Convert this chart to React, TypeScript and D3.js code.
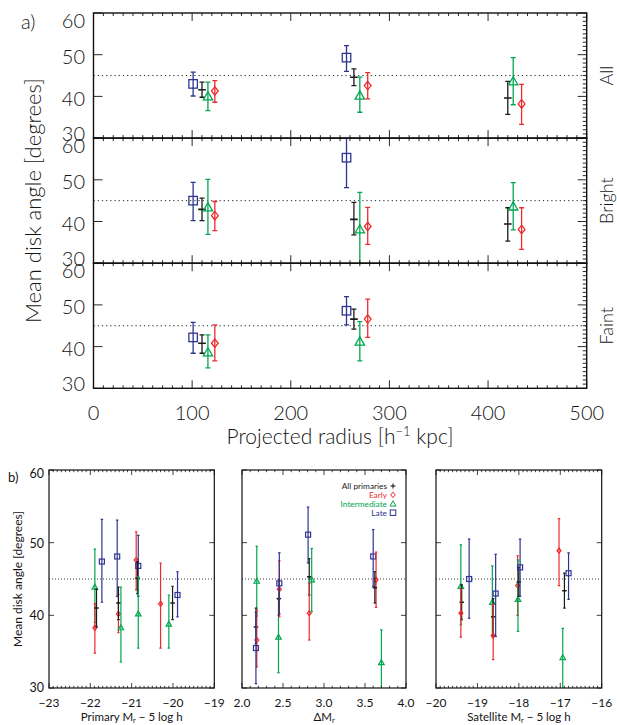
import React from "react";
import * as d3 from "d3";

type Kind = "all" | "early" | "int" | "late";
// kind, x position, mean angle, lower error end, upper error end
type Row = [Kind, number, number, number, number];

const radiusTicks = [0, 100, 200, 300, 400, 500];
const angleTicks = [30, 40, 50, 60];
const panelNames = ["All", "Bright", "Faint"];

const allRows: Row[] = [
  ["late", 101, 43.0, 40.1, 45.8],
  ["all", 110, 41.6, 39.8, 43.4],
  ["int", 116, 40.0, 36.6, 43.4],
  ["early", 123, 41.3, 38.6, 43.8],
  ["late", 256.5, 49.3, 46.0, 52.2],
  ["all", 264, 44.6, 42.6, 46.6],
  ["int", 270, 40.2, 36.2, 44.6],
  ["early", 278, 42.6, 39.4, 45.7],
  ["all", 420, 39.6, 35.7, 43.6],
  ["int", 425.5, 43.6, 38.0, 49.3],
  ["early", 434, 38.2, 33.3, 42.9],
];
const brightRows: Row[] = [
  ["late", 101, 45.0, 40.2, 49.4],
  ["all", 110, 42.9, 40.2, 45.6],
  ["int", 116, 43.4, 36.9, 50.1],
  ["early", 123, 41.4, 37.8, 44.8],
  ["late", 256.5, 55.3, 48.1, 62.5],
  ["all", 264, 40.5, 36.8, 44.6],
  ["int", 270, 38.1, 29.2, 47.0],
  ["early", 278, 38.8, 34.5, 43.4],
  ["all", 420, 39.4, 35.3, 43.3],
  ["int", 425.5, 43.6, 38.0, 49.3],
  ["early", 434, 38.1, 33.3, 43.3],
];
const faintRows: Row[] = [
  ["late", 101, 42.2, 38.4, 45.8],
  ["all", 110, 40.8, 38.4, 42.8],
  ["int", 116, 38.6, 34.9, 42.8],
  ["early", 123, 40.8, 36.6, 45.2],
  ["late", 256.5, 48.6, 45.2, 52.0],
  ["all", 264, 46.6, 44.2, 49.0],
  ["int", 270, 41.2, 36.6, 46.0],
  ["early", 278, 46.6, 42.2, 51.4],
];

const primaryTicks = [-23, -22, -21, -20, -19];
const gapTicks = [2.0, 2.5, 3.0, 3.5, 4.0];
const satelliteTicks = [-20, -19, -18, -17, -16];

const primaryRows: Row[] = [
  ["int", -21.89, 43.9, 39.0, 49.1],
  ["early", -21.89, 38.3, 34.8, 41.6],
  ["all", -21.85, 41.0, 38.4, 43.6],
  ["late", -21.72, 47.4, 41.8, 53.2],
  ["late", -21.35, 48.1, 42.6, 53.1],
  ["early", -21.32, 40.2, 37.6, 42.9],
  ["all", -21.32, 41.7, 39.4, 43.9],
  ["int", -21.26, 38.3, 33.6, 43.9],
  ["early", -20.89, 47.6, 43.5, 51.5],
  ["late", -20.84, 46.8, 42.6, 51.0],
  ["all", -20.86, 45.1, 43.0, 47.4],
  ["int", -20.84, 40.2, 35.5, 45.3],
  ["early", -20.3, 41.6, 35.5, 47.2],
  ["int", -20.1, 38.8, 35.5, 42.8],
  ["all", -20.01, 41.7, 39.4, 44.0],
  ["late", -19.89, 42.8, 39.8, 46.0],
];
const gapRows: Row[] = [
  ["int", 2.18, 44.7, 39.9, 49.5],
  ["all", 2.17, 38.4, 36.1, 41.0],
  ["early", 2.18, 36.6, 32.9, 40.7],
  ["late", 2.17, 35.5, 30.6, 40.4],
  ["int", 2.445, 37.0, 32.1, 42.2],
  ["all", 2.45, 42.3, 40.0, 44.9],
  ["early", 2.455, 43.6, 39.8, 47.5],
  ["late", 2.455, 44.4, 40.2, 48.6],
  ["late", 2.806, 51.1, 47.2, 54.9],
  ["all", 2.82, 45.3, 42.8, 47.8],
  ["early", 2.82, 40.3, 36.6, 44.4],
  ["int", 2.85, 44.9, 40.5, 49.2],
  ["late", 3.6, 48.1, 44.0, 51.8],
  ["early", 3.635, 44.9, 41.1, 48.7],
  ["all", 3.62, 43.8, 41.7, 46.0],
  ["int", 3.7, 33.5, 29.0, 38.0],
];
const satelliteRows: Row[] = [
  ["int", -19.4, 44.0, 38.7, 49.7],
  ["all", -19.38, 41.8, 39.4, 44.2],
  ["early", -19.4, 40.3, 37.0, 43.6],
  ["late", -19.2, 45.0, 39.6, 50.5],
  ["int", -18.64, 41.8, 37.3, 46.8],
  ["all", -18.62, 39.8, 37.2, 42.3],
  ["early", -18.62, 37.2, 33.9, 41.5],
  ["late", -18.56, 43.0, 37.1, 48.4],
  ["early", -18.03, 44.1, 40.0, 48.2],
  ["int", -18.02, 42.2, 37.8, 47.6],
  ["all", -18.0, 44.6, 42.6, 46.6],
  ["late", -17.97, 46.6, 42.6, 50.5],
  ["early", -17.03, 48.9, 44.1, 53.3],
  ["int", -16.94, 34.2, 29.0, 38.2],
  ["all", -16.9, 43.4, 41.0, 45.8],
  ["late", -16.8, 45.8, 42.2, 48.6],
];

const legendLabels: [string, Kind][] = [
  ["All primaries", "all"],
  ["Early", "early"],
  ["Intermediate", "int"],
  ["Late", "late"],
];

const COLORS: Record<Kind, string> = {
  all: "#1a1a1a",
  early: "#ee2a2e",
  int: "#00a650",
  late: "#2e3592",
};

const FONT = "Lato, 'DejaVu Sans', sans-serif";
const TEXT = "#151515";

function Marker({ kind, cx, cy, s, sw }: { kind: Kind; cx: number; cy: number; s: number; sw: number }) {
  const c = COLORS[kind];
  if (kind === "late")
    return <rect x={cx - s / 2} y={cy - s / 2} width={s} height={s} fill="none" stroke={c} strokeWidth={sw} />;
  if (kind === "early") {
    const h = s * 0.5;
    return (
      <path d={`M${cx},${cy - h}L${cx + h * 0.8},${cy}L${cx},${cy + h}L${cx - h * 0.8},${cy}Z`} fill="none" stroke={c} strokeWidth={sw} />
    );
  }
  if (kind === "int") {
    const h = s * 0.55;
    return (
      <path d={`M${cx},${cy - h}L${cx + h},${cy + h * 0.75}L${cx - h},${cy + h * 0.75}Z`} fill="none" stroke={c} strokeWidth={sw} />
    );
  }
  return <line x1={cx - s * 0.45} x2={cx + s * 0.45} y1={cy} y2={cy} stroke={c} strokeWidth={sw + 0.3} />;
}

function Points({
  rows,
  x,
  y,
  size,
  cap,
  width,
}: {
  rows: Row[];
  x: d3.ScaleLinear<number, number>;
  y: d3.ScaleLinear<number, number>;
  size: number;
  cap: number;
  width: number;
}) {
  return (
    <g>
      {rows.map(([kind, xv, mean, lo, hi], i) => {
        const cx = x(xv);
        const c = COLORS[kind];
        return (
          <g key={i}>
            <line x1={cx} x2={cx} y1={y(lo)} y2={y(hi)} stroke={c} strokeWidth={width} />
            <line x1={cx - cap / 2} x2={cx + cap / 2} y1={y(lo)} y2={y(lo)} stroke={c} strokeWidth={width} />
            <line x1={cx - cap / 2} x2={cx + cap / 2} y1={y(hi)} y2={y(hi)} stroke={c} strokeWidth={width} />
            <Marker kind={kind} cx={cx} cy={y(mean)} s={size} sw={width} />
          </g>
        );
      })}
    </g>
  );
}

function tickRange(a: number, b: number, step: number) {
  const n = Math.round((b - a) / step);
  return d3.range(n + 1).map((i) => +(a + i * step).toFixed(6));
}

export default function App() {
  const W = 617;
  const H = 725;

  // Upper stack: three panels sharing the projected-radius axis
  const topX = d3.scaleLinear().domain([0, 500]).range([93.5, 586.7]);
  const panelTop = 13;
  const panelH = 125.1;
  const rowsByPanel = [allRows, brightRows, faintRows];

  // Lower row: three panels side by side
  const bTop = 470;
  const bBottom = 688;
  const bY = d3.scaleLinear().domain([30, 60]).range([bBottom, bTop]);
  const bPanels = [
    {
      x: d3.scaleLinear().domain([-23, -19]).range([49, 214.3]),
      ticks: primaryTicks,
      minor: 0.1,
      major: 1,
      rows: primaryRows,
      fmt: (v: number) => (v < 0 ? "\u2212" + Math.abs(v) : String(v)),
      title: ["Primary M", "r", " \u2212 5 log h"],
    },
    {
      x: d3.scaleLinear().domain([2, 4]).range([242, 406]),
      ticks: gapTicks,
      minor: 0.1,
      major: 0.5,
      rows: gapRows,
      fmt: (v: number) => v.toFixed(1),
      title: ["\u0394M", "r", ""],
    },
    {
      x: d3.scaleLinear().domain([-20, -16]).range([436, 601.7]),
      ticks: satelliteTicks,
      minor: 0.1,
      major: 1,
      rows: satelliteRows,
      fmt: (v: number) => (v < 0 ? "\u2212" + Math.abs(v) : String(v)),
      title: ["Satellite M", "r", " \u2212 5 log h"],
    },
  ];

  const minorR = tickRange(0, 500, 10);
  const legendX = 387;
  const legendSymX = 393;

  return (
    <svg
      width={W}
      height={H}
      viewBox={`0 0 ${W} ${H}`}
      style={{ position: "absolute", left: 0, top: 0, background: "#fff" }}
      fontFamily={FONT}
      fontWeight={300}
    >
      <defs>
        {rowsByPanel.map((_, p) => (
          <clipPath id={`clip-top-${p}`} key={p}>
            <rect x={93.5} y={panelTop + p * panelH - 1} width={586.7 - 93.5} height={panelH + 2} />
          </clipPath>
        ))}
        {bPanels.map((bp, p) => (
          <clipPath id={`clip-b-${p}`} key={p}>
            <rect x={bp.x.range()[0]} y={bTop} width={bp.x.range()[1] - bp.x.range()[0]} height={bBottom - bTop} />
          </clipPath>
        ))}
      </defs>

      {/* Upper stack */}
      {rowsByPanel.map((rows, p) => {
        const y0 = panelTop + p * panelH;
        const y = d3.scaleLinear().domain([30, 60]).range([y0 + panelH, y0]);
        const xl = 93.5;
        const xr = 586.7;
        return (
          <g key={p}>
            <line x1={xl} x2={xr} y1={y(45)} y2={y(45)} stroke="#222" strokeWidth={1} strokeDasharray="1.2,3" />
            <g clipPath={`url(#clip-top-${p})`}>
              <Points rows={rows} x={topX} y={y} size={8.5} cap={5} width={1.3} />
            </g>
            <rect x={xl} y={y0} width={xr - xl} height={panelH} fill="none" stroke="#111" strokeWidth={1.4} />
            {/* x ticks on top and bottom borders */}
            {minorR.map((v) => {
              const len = v % 100 === 0 ? 8 : 3;
              return (
                <g key={v}>
                  <line x1={topX(v)} x2={topX(v)} y1={y0 + panelH} y2={y0 + panelH - len} stroke="#111" strokeWidth={0.9} />
                  <line x1={topX(v)} x2={topX(v)} y1={y0} y2={y0 + len} stroke="#111" strokeWidth={0.9} />
                </g>
              );
            })}
            {/* y ticks: majors left, majors + minors right */}
            {tickRange(30, 60, 1).map((v) => {
              const major = v % 10 === 0;
              return (
                <g key={v}>
                  {major && <line x1={xl} x2={xl + 9} y1={y(v)} y2={y(v)} stroke="#111" strokeWidth={0.9} />}
                  <line x1={xr} x2={xr - (major ? 9 : 4)} y1={y(v)} y2={y(v)} stroke="#111" strokeWidth={0.9} />
                </g>
              );
            })}
            {angleTicks.map((v) => {
              const off = v === 60 ? 7 : v === 30 ? -5.6 : 1.5;
              return (
                <text key={v} x={85} y={y(v) + off} textAnchor="end" dominantBaseline="central" fontSize={20} fill={TEXT}>
                  {v}
                </text>
              );
            })}
            <text
              transform={`translate(606,${y0 + panelH / 2}) rotate(-90)`}
              textAnchor="middle"
              dominantBaseline="central"
              fontSize={18}
              fill={TEXT}
            >
              {panelNames[p]}
            </text>
          </g>
        );
      })}

      {radiusTicks.map((v) => (
        <text key={v} x={topX(v)} y={411.7} textAnchor="middle" dominantBaseline="central" fontSize={20} fill={TEXT}>
          {v}
        </text>
      ))}
      <text x={340} y={444} textAnchor="middle" fontSize={21} fill={TEXT}>
        Projected radius [h
        <tspan dy={-8} fontSize={13}>
          {"\u22121"}
        </tspan>
        <tspan dy={8}> kpc]</tspan>
      </text>
      <text
        transform={`translate(32,${(panelTop + panelTop + 3 * panelH) / 2}) rotate(-90)`}
        textAnchor="middle"
        dominantBaseline="central"
        fontSize={22}
        fill={TEXT}
      >
        Mean disk angle [degrees]
      </text>
      <text x={21} y={29} fontSize={20} fill={TEXT}>
        a)
      </text>

      {/* Lower row */}
      <g fontWeight={400}>
        {bPanels.map((bp, p) => {
          const [xl, xr] = bp.x.range();
          const [d0, d1] = bp.x.domain();
          const minors = tickRange(d0, d1, bp.minor);
          return (
            <g key={p}>
              <line x1={xl} x2={xr} y1={bY(45)} y2={bY(45)} stroke="#222" strokeWidth={0.9} strokeDasharray="1,2" />
              <g clipPath={`url(#clip-b-${p})`}>
                <Points rows={bp.rows} x={bp.x} y={bY} size={5} cap={2.5} width={1.2} />
              </g>
              <rect x={xl} y={bTop} width={xr - xl} height={bBottom - bTop} fill="none" stroke="#111" strokeWidth={1.2} />
              {minors.map((v, i) => {
                const isMajor = Math.abs(v / bp.major - Math.round(v / bp.major)) < 1e-6;
                const len = isMajor ? 5 : 2.2;
                return (
                  <g key={i}>
                    <line x1={bp.x(v)} x2={bp.x(v)} y1={bBottom} y2={bBottom - len} stroke="#111" strokeWidth={0.8} />
                    <line x1={bp.x(v)} x2={bp.x(v)} y1={bTop} y2={bTop + len} stroke="#111" strokeWidth={0.8} />
                  </g>
                );
              })}
              {angleTicks.map((v) => (
                <g key={v}>
                  <line x1={xl} x2={xl + 5} y1={bY(v)} y2={bY(v)} stroke="#111" strokeWidth={0.8} />
                  <line x1={xr} x2={xr - 5} y1={bY(v)} y2={bY(v)} stroke="#111" strokeWidth={0.8} />
                </g>
              ))}
              {bp.ticks.map((v) => (
                <text key={v} x={bp.x(v)} y={702.5} textAnchor="middle" dominantBaseline="central" fontSize={12} fill={TEXT}>
                  {bp.fmt(v)}
                </text>
              ))}
              <text x={(xl + xr) / 2} y={720.5} textAnchor="middle" fontSize={11.5} fill={TEXT}>
                {bp.title[0]}
                <tspan dy={2.5} fontSize={7.5}>
                  {bp.title[1]}
                </tspan>
                <tspan dy={-2.5}>{bp.title[2]}</tspan>
              </text>
            </g>
          );
        })}

        {angleTicks.map((v) => {
          const off = v === 60 ? 3 : v === 30 ? -1 : 0.5;
          return (
            <text key={v} x={44} y={bY(v) + off} textAnchor="end" dominantBaseline="central" fontSize={12.5} fill={TEXT}>
              {v}
            </text>
          );
        })}
        <text
          transform={`translate(17,${(bTop + bBottom) / 2}) rotate(-90)`}
          textAnchor="middle"
          dominantBaseline="central"
          fontSize={12}
          fill={TEXT}
        >
          Mean disk angle [degrees]
        </text>
        <text x={8} y={482} fontSize={13} fill={TEXT}>
          b)
        </text>

        {/* Legend: labels right-aligned with their symbol drawn beside them */}
        {legendLabels.map(([label, kind], i) => {
          const ly = 486 + i * 8.9;
          return (
            <g key={kind}>
              <text x={legendX} y={ly} textAnchor="end" dominantBaseline="central" fontSize={8.3} fill={COLORS[kind]}>
                {label}
              </text>
              {kind === "all" ? (
                <g stroke={COLORS.all} strokeWidth={1.1}>
                  <line x1={legendSymX - 2.5} x2={legendSymX + 2.5} y1={ly} y2={ly} />
                  <line x1={legendSymX} x2={legendSymX} y1={ly - 2.5} y2={ly + 2.5} />
                </g>
              ) : (
                <Marker kind={kind} cx={legendSymX} cy={ly} s={5.5} sw={1} />
              )}
            </g>
          );
        })}
      </g>
    </svg>
  );
}
